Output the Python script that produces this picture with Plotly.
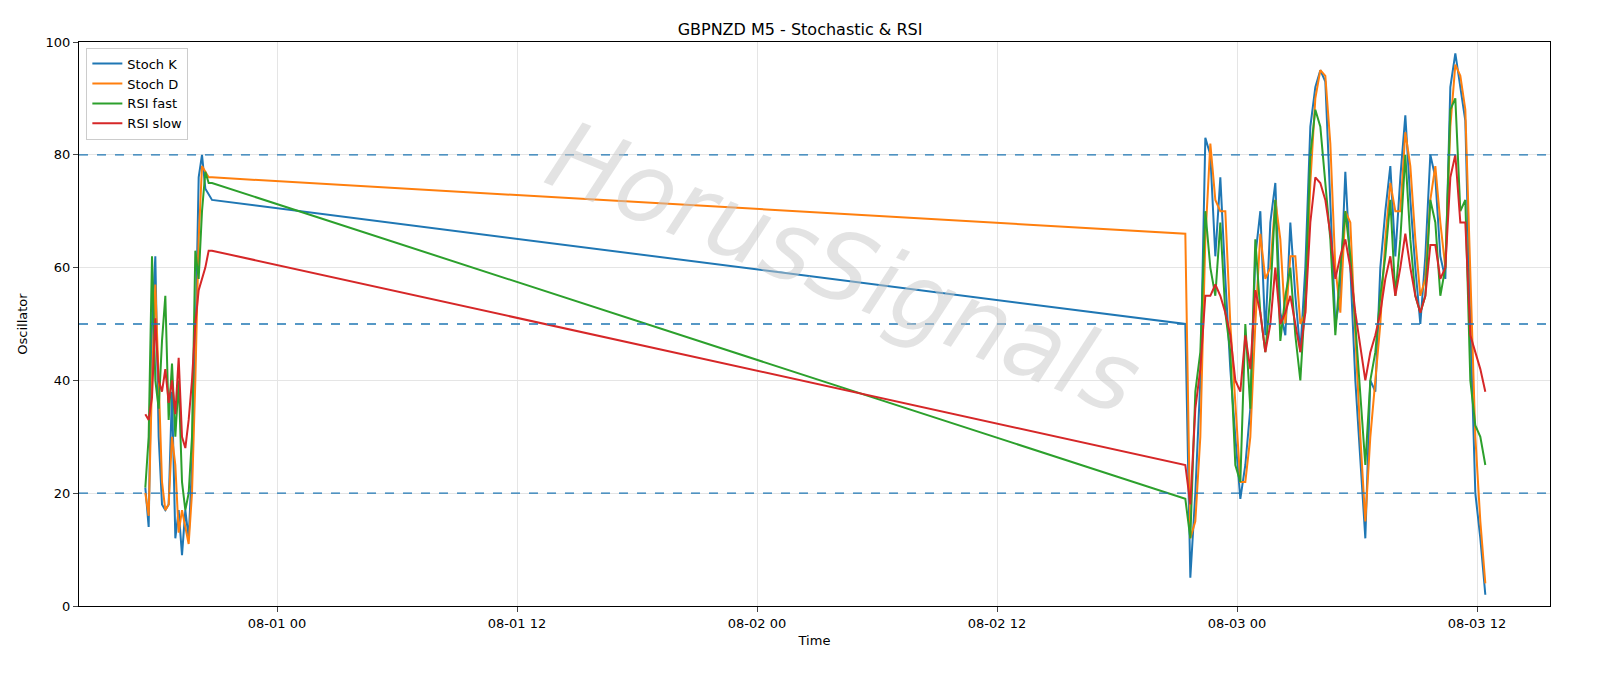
import pandas as pd
import plotly.graph_objects as go

# Segment 1: 07-31 17:25 .. 20:45 (10-min samples)
k1 = [21,14,50,62,30,18,17,18,38,12,17,9,17,12,25,45,76,80,74,73,72]
d1 = [20,16,40,57,40,22,17,18,30,25,13,17,14,11,20,40,65,78,77,76,76]
rf1 = [21,30,62,40,35,47,55,33,43,30,40,22,17,20,30,63,58,70,77,75,75]
rs1 = [34,33,37,51,40,38,42,36,40,34,44,30,28,33,40,50,56,58,60,63,63]
# Segment 2: 08-02 21:25 .. 08-03 12:25 (15-min samples)
k2 = [50,5,20,40,83,80,62,76,58,42,30,19,25,35,62,70,48,68,75,52,48,68,55,45,60,85,92,95,93,72,
      50,55,77,60,40,26,12,40,38,60,70,78,62,76,87,72,60,50,62,80,76,62,58,92,98,92,86,50,20,12,2]
d2 = [66,12,15,30,65,82,72,70,70,50,35,22,22,30,50,66,58,60,72,65,50,62,62,50,52,75,90,95,94,82,
      60,52,70,68,48,30,15,30,40,50,65,75,70,70,84,78,65,55,58,72,78,68,60,85,96,94,88,60,30,15,4]
rf2 = [19,12,38,45,70,60,55,68,52,45,25,22,50,35,65,52,45,55,72,47,55,60,48,40,55,80,88,85,75,65,
       48,60,70,62,50,38,25,40,45,55,62,72,55,65,80,65,55,52,55,72,68,55,60,88,90,70,72,40,32,30,25]
rs2 = [25,18,35,42,55,55,57,55,52,48,40,38,48,42,56,52,45,50,60,50,52,55,50,45,52,68,76,75,72,66,
       58,62,65,60,52,46,40,45,48,52,58,62,55,60,66,60,55,52,55,64,64,58,60,76,80,68,68,48,45,42,38]
levels = [20, 50, 80]

t1 = pd.date_range("2025-07-31 17:25", periods=len(k1), freq="10min")
t2 = pd.date_range("2025-08-02 21:25", periods=len(k2), freq="15min")
t = list(t1) + list(t2)

fig = go.Figure()
for name, a, b, c in [("Stoch K", k1, k2, "#1f77b4"), ("Stoch D", d1, d2, "#ff7f0e"),
                      ("RSI fast", rf1, rf2, "#2ca02c"), ("RSI slow", rs1, rs2, "#d62728")]:
    fig.add_trace(go.Scatter(x=t, y=a + b, mode="lines", name=name, line=dict(color=c, width=2)))
for lv in levels:
    fig.add_hline(y=lv, line=dict(color="#1f77b4", width=1.3, dash="dash"))

fig.add_annotation(text="<i>HorusSignals</i>", x=0.52, y=0.6, xref="paper", yref="paper",
                   showarrow=False, textangle=22,
                   font=dict(size=96, color="rgba(200,200,200,0.5)", family="DejaVu Sans"))
fig.update_layout(
    width=1600, height=686, plot_bgcolor="white", paper_bgcolor="white",
    margin=dict(l=79, r=50, t=42, b=80),
    font=dict(family="DejaVu Sans", size=13, color="black"),
    title=dict(text="GBPNZD M5 - Stochastic & RSI", x=0.5, xanchor="center", y=0.965, font=dict(size=16)),
    legend=dict(x=0.005, y=0.99, xanchor="left", yanchor="top", bordercolor="#ccc", borderwidth=1,
                bgcolor="rgba(255,255,255,0.8)", font=dict(size=13)),
    xaxis=dict(title=dict(text="Time", standoff=6, font=dict(size=13)), range=["2025-07-31 14:06", "2025-08-03 15:39"],
               tickvals=pd.date_range("2025-08-01", periods=6, freq="12h"), tickformat="%m-%d %H",
               showgrid=True, gridcolor="#e5e5e5", showline=True, linecolor="black", mirror=True,
               ticks="outside", zeroline=False),
    yaxis=dict(title=dict(text="Oscillator", font=dict(size=13)), range=[0, 100], dtick=20, showgrid=True, gridcolor="#e5e5e5",
               showline=True, linecolor="black", mirror=True, ticks="outside", zeroline=False),
)
fig.write_html("out.html", config={"displayModeBar": False},
               post_script="document.body.style.margin='0';document.body.style.overflow='hidden';")
